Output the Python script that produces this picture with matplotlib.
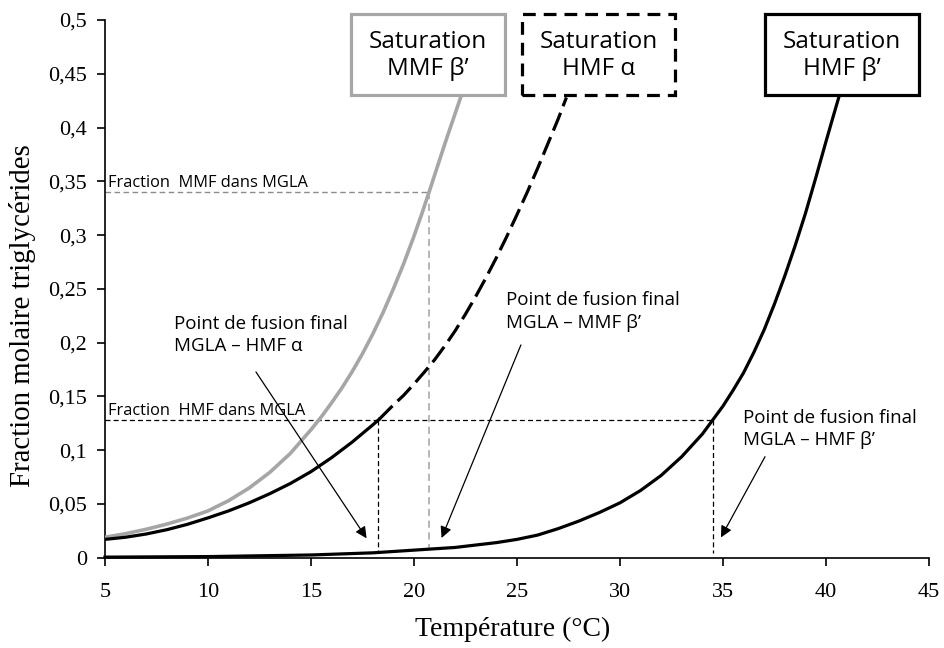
import matplotlib
matplotlib.use("Agg")
import matplotlib.pyplot as plt
from matplotlib.patches import Rectangle

# ---------------- data ----------------
temp_mmf_beta = [5, 6, 7, 8, 9, 10, 11, 12, 13, 14, 15, 15.5, 16, 16.5, 17, 17.5, 18, 18.5,
                 19, 19.5, 20, 20.375, 20.75, 21.125, 21.5, 21.9, 22.3]
frac_mmf_beta = [0.019, 0.0223, 0.0264, 0.0312, 0.0368, 0.0435, 0.0530, 0.0648, 0.0793,
                 0.0970, 0.1190, 0.1309, 0.1440, 0.1578, 0.1730, 0.1897, 0.2080, 0.2280,
                 0.2500, 0.2734, 0.2990, 0.3195, 0.3410, 0.3630, 0.3850, 0.4075, 0.4300]

temp_hmf_alpha_solid = [5, 6, 7, 8, 9, 10, 11, 12, 13, 14, 15, 16, 17, 18, 18.3]
frac_hmf_alpha_solid = [0.017, 0.019, 0.022, 0.026, 0.031, 0.037, 0.0435, 0.0510, 0.0595,
                        0.0690, 0.0800, 0.0930, 0.1075, 0.1235, 0.1285]
temp_hmf_alpha_dash = [18.3, 19, 19.5, 20, 20.5, 21, 21.5, 22, 22.5, 23, 23.5, 24, 24.5,
                       25, 25.5, 26, 26.5, 27, 27.4]
frac_hmf_alpha_dash = [0.1285, 0.142, 0.151, 0.1615, 0.1725, 0.184, 0.197, 0.211, 0.2265,
                       0.243, 0.2605, 0.279, 0.2985, 0.319, 0.340, 0.362, 0.385, 0.408, 0.428]

temp_hmf_beta = [5, 10, 15, 18, 20, 22, 24, 25, 26, 27, 28, 29, 30, 31, 32, 33, 34, 34.5,
                 35, 35.5, 36, 36.5, 37, 37.5, 38, 38.5, 39, 39.5, 40, 40.3, 40.65]
frac_hmf_beta = [0.0005, 0.001, 0.0025, 0.0045, 0.007, 0.0095, 0.014, 0.017, 0.021, 0.027,
                 0.034, 0.042, 0.051, 0.0625, 0.0765, 0.094, 0.115, 0.128, 0.141, 0.156,
                 0.172, 0.191, 0.212, 0.236, 0.262, 0.290, 0.320, 0.353, 0.387, 0.407, 0.430]

frac_mmf_in_mgla = 0.34
temp_mmf_fusion = 20.75
frac_hmf_in_mgla = 0.128
temp_hmf_alpha_fusion = 18.25
temp_hmf_beta_fusion = 34.5

x_ticks = [5, 10, 15, 20, 25, 30, 35, 40, 45]
x_tick_labels = ["5", "10", "15", "20", "25", "30", "35", "40", "45"]
y_ticks = [0, 0.05, 0.1, 0.15, 0.2, 0.25, 0.3, 0.35, 0.4, 0.45, 0.5]
y_tick_labels = ["0", "0,05", "0,1", "0,15", "0,2", "0,25", "0,3", "0,35", "0,4", "0,45", "0,5"]

box_labels = ["Saturation\nMMF β’", "Saturation\nHMF α", "Saturation\nHMF β’"]
fusion_labels = ["Point de fusion final\nMGLA – HMF α",
                 "Point de fusion final\nMGLA – MMF β’",
                 "Point de fusion final\nMGLA – HMF β’"]

# ---------------- figure ----------------
SANS = ["Open Sans", "DejaVu Sans"]
SERIF = ["Liberation Serif", "DejaVu Serif"]

fig = plt.figure(figsize=(9.44, 6.48), dpi=100)
ax = fig.add_axes([0.1112, 0.1394, 0.8729, 0.8297])
ax.set_xlim(5, 45)
ax.set_ylim(0, 0.5)

gray = "#a6a6a6"
ax.plot(temp_mmf_beta, frac_mmf_beta, color=gray, lw=2.6, zorder=3)
ax.plot(temp_hmf_alpha_solid, frac_hmf_alpha_solid, color="black", lw=2.3, zorder=3)
ax.plot(temp_hmf_alpha_dash, frac_hmf_alpha_dash, color="black", lw=2.3,
        linestyle=(0, (6, 2.2)), zorder=3)
ax.plot(temp_hmf_beta, frac_hmf_beta, color="black", lw=2.3, zorder=3, clip_on=False)

# reference dashed lines
ax.plot([5, temp_mmf_fusion], [frac_mmf_in_mgla, frac_mmf_in_mgla], color="#8c8c8c",
        lw=1.0, linestyle=(0, (4, 2.5)), zorder=2)
ax.plot([temp_mmf_fusion, temp_mmf_fusion], [frac_mmf_in_mgla, 0.009], color="#b0b0b0",
        lw=1.3, linestyle=(0, (4, 2.5)), zorder=2)
ax.plot([5, temp_hmf_beta_fusion], [frac_hmf_in_mgla, frac_hmf_in_mgla], color="black",
        lw=0.9, linestyle=(0, (4, 2.5)), zorder=2)
ax.plot([temp_hmf_alpha_fusion, temp_hmf_alpha_fusion], [frac_hmf_in_mgla, 0.0065],
        color="black", lw=0.9, linestyle=(0, (4, 2.5)), zorder=2)
ax.plot([temp_hmf_beta_fusion, temp_hmf_beta_fusion], [frac_hmf_in_mgla, 0.004],
        color="black", lw=0.9, linestyle=(0, (4, 2.5)), zorder=2)

ax.text(5.15, frac_mmf_in_mgla + 0.001, "Fraction  MMF dans MGLA", family=SANS,
        fontsize=11.8, va="bottom", ha="left")
ax.text(5.15, frac_hmf_in_mgla + 0.001, "Fraction  HMF dans MGLA", family=SANS,
        fontsize=11.8, va="bottom", ha="left")

# saturation boxes (data coordinates, drawn above the axes top)
boxes = [
    (16.94, 24.42, gray, "solid"),
    (25.24, 32.67, "black", (0, (4.0, 2.5))),
    (37.04, 44.51, "black", "solid"),
]
y_bot, y_top = 0.430, 0.5056
for (x0, x1, col, ls), lab in zip(boxes, box_labels):
    r = Rectangle((x0, y_bot), x1 - x0, y_top - y_bot, facecolor="white", edgecolor=col,
                  lw=2.3, linestyle=ls, clip_on=False, zorder=5)
    ax.add_patch(r)
    ax.text((x0 + x1) / 2, (y_bot + y_top) / 2 - 0.001, lab, ha="center", va="center",
            family=SANS, fontsize=17.5, linespacing=1.15, zorder=6, clip_on=False)

# fusion point annotations
text_pos = [(8.35, 0.207), (24.45, 0.229), (35.98, 0.1197)]
arrow_start = [(12.33, 0.1727), (25.19, 0.1978), (37.04, 0.0939)]
arrow_end = [(17.70, 0.018), (21.34, 0.0183), (34.90, 0.0188)]
for (tx, ty), lab, s, e in zip(text_pos, fusion_labels, arrow_start, arrow_end):
    ax.text(tx, ty, lab, ha="left", va="center", family=SANS, fontsize=13.5,
            linespacing=1.3, zorder=6)
    ax.annotate("", xy=e, xytext=s,
                arrowprops=dict(arrowstyle="-|>", color="black", lw=0.9,
                                mutation_scale=17, shrinkA=0, shrinkB=0), zorder=6)

# axes styling
for side in ["top", "right"]:
    ax.spines[side].set_visible(False)
for side in ["left", "bottom"]:
    ax.spines[side].set_linewidth(1.2)
    ax.spines[side].set_color("black")

ax.set_xticks(x_ticks)
ax.set_xticklabels(x_tick_labels, family=SERIF, fontsize=16)
ax.set_yticks(y_ticks)
ax.set_yticklabels(y_tick_labels, family=SERIF, fontsize=16)
ax.tick_params(axis="x", direction="out", length=6, width=1.2, pad=12)
ax.tick_params(axis="y", direction="out", length=6, width=1.2, pad=7)

ax.set_xlabel("Température (°C)", family=SERIF, fontsize=20)
ax.set_ylabel("Fraction molaire triglycérides", family=SERIF, fontsize=20.8)
ax.xaxis.set_label_coords(0.495, -0.11)
ax.yaxis.set_label_coords(-0.084, 0.4495)

fig.savefig("out.png", dpi=100)
